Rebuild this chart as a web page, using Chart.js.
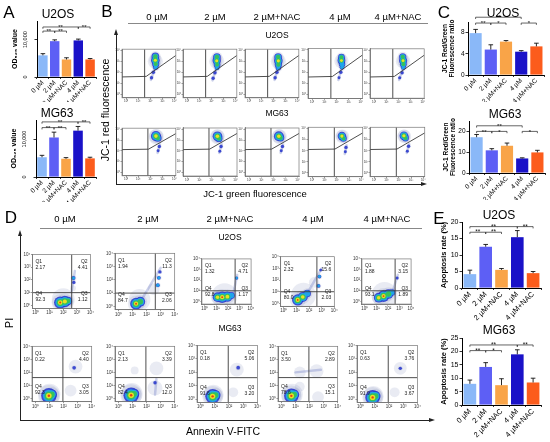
<!DOCTYPE html>
<html>
<head>
<meta charset="utf-8">
<title>Viability, JC-1 and apoptosis panels</title>
<script src="https://cdn.jsdelivr.net/npm/chart.js@4.4.1/dist/chart.umd.min.js"></script>
<style>
  html, body { margin: 0; padding: 0; background: #fff; }
  #fig { position: relative; width: 550px; height: 442px; overflow: hidden; background: #fff;
         font-family: 'Liberation Sans', Arial, sans-serif; color: #000; }
  #fig canvas { position: absolute; }
  .lbl { position: absolute; white-space: nowrap; line-height: 1; transform: translate(-50%, -50%); }
  .ln { position: absolute; }
  .tri { position: absolute; width: 0; height: 0; }
</style>
</head>
<body>
<div id="fig"></div>
<script>
// ---------- data ----------
const GROUPS = ["0 µM", "2 µM", "2 µM+NAC", "4 µM", "4 µM+NAC"];
const CELL_LINES = ["U2OS", "MG63"];

// A: OD values (mean, SD)
const A_U2OS = [5800, 9600, 4700, 9800, 4700];
const A_U2OS_SD = [450, 350, 450, 350, 250];
const A_MG63 = [5200, 10400, 4800, 12200, 4900];
const A_MG63_SD = [500, 1400, 300, 1100, 300];
const A_TICKS = [0, 5000, 10000, 15000];

// C: JC-1 red/green ratio (mean, SD)
const C_U2OS = [7.9, 4.8, 6.3, 4.4, 5.4];
const C_U2OS_SD = [0.7, 0.9, 0.2, 0.2, 0.6];
const C_MG63 = [17.2, 10.9, 13.1, 7.0, 9.9];
const C_MG63_SD = [1.3, 0.8, 1.3, 0.3, 1.0];
const C_U2OS_TICKS = [0, 2, 4, 6, 8, 10];
const C_MG63_TICKS = [0, 5, 10, 15, 20, 25];

// E: apoptosis rate % (mean, SD)
const E_U2OS = [4.2, 12.5, 5.5, 15.4, 4.5];
const E_U2OS_SD = [1.2, 0.7, 0.4, 2.0, 0.5];
const E_MG63 = [7.9, 14.2, 7.4, 18.9, 8.4];
const E_MG63_SD = [1.4, 1.6, 2.4, 1.7, 1.6];
const E_U2OS_TICKS = [0, 5, 10, 15, 20];
const E_MG63_TICKS = [0, 5, 10, 15, 20, 25];

// significance brackets: [from group, to group, height (axis units), label]
const A_U2OS_SIG = [[0, 1, 12300, "**"], [1, 2, 12300, "**"], [0, 3, 13400, "**"], [3, 4, 13400, "**"]];
const A_MG63_SIG = [[0, 1, 13000, "**"], [1, 2, 13000, "**"], [0, 3, 14500, "**"], [3, 4, 14500, "**"]];
const C_U2OS_SIG = [[0, 1, 9.8, "**"], [1, 2, 9.8, "*"], [0, 3, 10.9, "**"], [3, 4, 9.8, "*"]];
const C_MG63_SIG = [[0, 1, 20, "**"], [1, 2, 20, "*"], [0, 3, 22.7, "**"], [3, 4, 20, "*"]];
const E_U2OS_SIG = [[0, 1, 16.9, "**"], [1, 2, 16.9, "**"], [0, 3, 18.6, "**"], [3, 4, 18.6, "**"]];
const E_MG63_SIG = [[0, 1, 20.3, "**"], [1, 2, 20.3, "*"], [0, 3, 22.4, "**"], [3, 4, 22.4, "**"]];

// flow plots: axes in log10 decades
const DECADES = [0, 1, 2, 3, 4];
const B_AXIS = [-0.35, 4.12];
const D_AXIS = [-0.25, 4];

// B gates: [vertical x, left horizontal y, knee x, knee y, y at right edge]
const B_U2OS_GATE = [1.53, 1.57, 1.66, 1.62, 3.54];
const B_MG63_GATE = [1.8, 2.11, 1.85, 2.15, 3.61];
// populations: [x, y, spread (decades), density level 0-5]
const B_U2OS_POP = [
  [[2.42, 3.0, 0.45, 0], [2.42, 3.45, 0.32, 3], [2.42, 3.1, 0.36, 4], [2.45, 2.75, 0.3, 3], [2.45, 2.45, 0.22, 2], [2.25, 2.0, 0.15, 1], [2.1, 1.5, 0.14, 1]],
  [[2.45, 3.0, 0.45, 0], [2.47, 3.4, 0.32, 3], [2.45, 3.05, 0.35, 4], [2.48, 2.7, 0.28, 3], [2.48, 2.4, 0.2, 2], [2.3, 1.95, 0.15, 1], [2.15, 1.45, 0.14, 1]],
  [[2.42, 3.0, 0.45, 0], [2.4, 3.4, 0.32, 3], [2.42, 3.05, 0.36, 4], [2.42, 2.7, 0.3, 3], [2.42, 2.4, 0.22, 2], [2.3, 2.0, 0.15, 1], [2.15, 1.5, 0.14, 1]],
  [[2.4, 3.0, 0.42, 0], [2.4, 3.35, 0.28, 3], [2.4, 3.05, 0.32, 4], [2.45, 2.72, 0.26, 2], [2.45, 2.45, 0.2, 2], [2.35, 2.0, 0.14, 1], [2.2, 1.5, 0.12, 1]],
  [[2.38, 3.0, 0.43, 0], [2.35, 3.4, 0.3, 3], [2.38, 3.05, 0.34, 4], [2.4, 2.72, 0.28, 3], [2.4, 2.42, 0.2, 2], [2.3, 1.95, 0.14, 1], [2.1, 1.5, 0.13, 1]]
];
const B_MG63_POP = [
  [[2.5, 3.3, 0.45, 0], [2.47, 3.38, 0.42, 4], [2.62, 3.2, 0.32, 3], [2.75, 2.4, 0.14, 1], [2.65, 2.0, 0.12, 1]],
  [[2.5, 3.3, 0.44, 0], [2.5, 3.35, 0.4, 4], [2.62, 3.15, 0.3, 3], [2.8, 2.4, 0.14, 1], [2.7, 1.95, 0.12, 1]],
  [[2.5, 3.3, 0.44, 0], [2.45, 3.35, 0.41, 4], [2.6, 3.2, 0.3, 3], [2.75, 2.4, 0.14, 1], [2.65, 2.0, 0.12, 1]],
  [[2.45, 3.3, 0.4, 0], [2.42, 3.32, 0.35, 4], [2.55, 3.1, 0.27, 3], [2.75, 2.3, 0.14, 1], [2.7, 1.9, 0.12, 1]],
  [[2.45, 3.3, 0.4, 0], [2.42, 3.35, 0.36, 4], [2.55, 3.15, 0.28, 3], [2.8, 2.4, 0.14, 1], [2.7, 1.95, 0.12, 1]]
];
const B_U2OS_STREAK = [[[2.4, 2.4, 2.05, 1.3]], [[2.42, 2.35, 2.1, 1.25]], [[2.4, 2.4, 2.1, 1.3]], [[2.42, 2.4, 2.15, 1.3]], [[2.38, 2.4, 2.05, 1.3]]];
const B_MG63_STREAK = [[[2.8, 2.6, 2.6, 1.8]], [[2.85, 2.6, 2.65, 1.8]], [[2.8, 2.6, 2.6, 1.8]], [[2.8, 2.5, 2.65, 1.7]], [[2.85, 2.6, 2.65, 1.8]]];

// D quadrant gates [Annexin V x, PI y] and percentages [Q1, Q2, Q3, Q4]
const D_U2OS_GATE = [2.62, 1.0];
const D_MG63_GATE = [1.95, 1.6];
const D_U2OS_Q = [[2.17, 4.41, 1.12, 92.3], [1.94, 11.3, 2.06, 84.7], [1.32, 4.71, 1.17, 92.8], [2.32, 15.6, 2.03, 80.0], [1.88, 3.15, 1.89, 93.1]];
const D_MG63_Q = [[0.22, 4.40, 3.05, 92.3], [2.13, 3.39, 12.0, 82.4], [0.18, 5.06, 3.20, 91.6], [3.50, 2.89, 15.1, 78.6], [0.63, 3.76, 3.67, 91.9]];
const D_U2OS_POP = [
  [[2.0, 0.45, 0.6, 0], [1.78, 0.22, 0.45, 5], [2.12, 0.3, 0.42, 4], [2.35, 0.35, 0.3, 3], [2.75, 2.15, 0.15, 2], [2.78, 1.8, 0.12, 1], [2.72, 1.35, 0.15, 0]],
  [[1.5, 0.5, 0.55, 0], [1.25, 0.2, 0.42, 5], [1.55, 0.35, 0.35, 3], [2.8, 1.6, 0.14, 2], [2.87, 2.15, 0.14, 2], [2.95, 2.6, 0.12, 1], [2.5, 1.3, 0.3, 0]],
  [[1.7, 0.5, 0.8, 0], [1.1, 0.4, 0.42, 4], [1.5, 0.4, 0.5, 5], [1.95, 0.45, 0.45, 4], [2.3, 0.55, 0.3, 2], [2.75, 2.2, 0.14, 2]],
  [[1.55, 0.7, 0.7, 0], [1.1, 0.3, 0.45, 5], [1.5, 0.55, 0.4, 4], [1.85, 0.85, 0.3, 2], [2.75, 1.5, 0.15, 2], [2.82, 2.3, 0.15, 2], [2.92, 2.85, 0.11, 1], [2.4, 1.8, 0.3, 0]],
  [[1.7, 0.6, 0.8, 0], [1.2, 0.35, 0.42, 4], [1.62, 0.5, 0.5, 5], [2.05, 0.7, 0.42, 3], [2.35, 0.85, 0.28, 2], [2.8, 2.2, 0.13, 1]]
];
const D_MG63_POP = [
  [[1.0, 0.3, 0.55, 0], [0.95, 0.2, 0.55, 5], [1.15, 0.3, 0.38, 3], [2.85, 2.45, 0.35, 0], [2.75, 2.35, 0.13, 1], [2.5, 0.6, 0.3, 0]],
  [[0.95, 0.35, 0.55, 0], [0.9, 0.25, 0.55, 5], [1.1, 0.35, 0.38, 3], [2.6, 0.8, 0.38, 0], [2.7, 2.3, 0.35, 0], [1.15, 2.15, 0.2, 0], [2.6, 1.2, 0.12, 1]],
  [[0.9, 0.3, 0.52, 0], [0.85, 0.2, 0.52, 5], [1.05, 0.3, 0.36, 3], [2.55, 2.2, 0.35, 0], [2.65, 2.35, 0.13, 1], [2.3, 0.5, 0.25, 0]],
  [[0.75, 0.3, 0.55, 0], [0.7, 0.2, 0.52, 5], [0.9, 0.3, 0.36, 3], [1.3, 2.0, 0.3, 0], [2.5, 2.1, 0.35, 0], [2.6, 0.1, 0.3, 0], [1.3, 0.9, 0.25, 0]],
  [[0.9, 0.2, 0.52, 0], [0.85, 0.12, 0.52, 5], [1.05, 0.22, 0.36, 3], [2.8, 2.3, 0.32, 0], [2.8, 2.3, 0.12, 1], [2.4, 0.5, 0.25, 0]]
];
const D_U2OS_STREAK = [[[2.62, 1.1, 2.85, 2.7]], [[1.7, 0.6, 3.0, 2.9]], [[2.5, 0.9, 2.8, 2.5]], [[1.9, 0.95, 3.0, 3.0]], [[2.4, 0.9, 2.85, 2.5]]];
const D_MG63_STREAK = [[], [[2.6, 0.3, 2.7, 1.5]], [], [[1.0, 2.0, 2.8, 2.2]], []];

// ---------- styling ----------
const BAR_COLORS = ["#8ab8f8", "#5d5ff5", "#f9a448", "#1a12c8", "#fc5c1c"];
const FONT = "'Liberation Sans', Arial, sans-serif";
const SUP = ["⁰", "¹", "²", "³", "⁴"];
// density layers: radius factor relative to population spread, colour
const HEAT = [
  { k: 1.4, color: "rgba(120,128,180,0.16)" },
  { k: 1.0, color: "rgba(40,55,205,0.88)" },
  { k: 0.78, color: "rgba(30,170,235,0.92)" },
  { k: 0.56, color: "rgba(55,195,85,0.95)" },
  { k: 0.36, color: "rgba(240,225,35,0.97)" },
  { k: 0.16, color: "rgba(230,55,25,0.97)" }
];

Chart.defaults.font.family = FONT;
Chart.defaults.color = "#000";

const fig = document.getElementById("fig");

// ---------- plugins ----------
const errorBars = {
  id: "errorBars",
  afterDatasetsDraw(chart, args, opts) {
    if (!opts.sd) return;
    const y = chart.scales.y, ctx = chart.ctx, vals = chart.data.datasets[0].data;
    ctx.save();
    ctx.strokeStyle = "#111";
    ctx.lineWidth = 0.9;
    chart.getDatasetMeta(0).data.forEach((bar, i) => {
      const top = y.getPixelForValue(vals[i] + opts.sd[i]);
      ctx.beginPath();
      ctx.moveTo(bar.x, bar.y);
      ctx.lineTo(bar.x, top);
      ctx.moveTo(bar.x - 2.3, top);
      ctx.lineTo(bar.x + 2.3, top);
      ctx.stroke();
    });
    ctx.restore();
  }
};

const sigBars = {
  id: "sigBars",
  afterDatasetsDraw(chart, args, opts) {
    if (!opts.items) return;
    const x = chart.scales.x, y = chart.scales.y, ctx = chart.ctx;
    ctx.save();
    ctx.strokeStyle = "#222";
    ctx.lineWidth = 0.7;
    ctx.fillStyle = "#111";
    ctx.font = opts.size + "px " + FONT;
    ctx.textAlign = "center";
    opts.items.forEach(([a, b, h, label]) => {
      const x1 = x.getPixelForValue(a), x2 = x.getPixelForValue(b), yy = y.getPixelForValue(h);
      ctx.beginPath();
      ctx.moveTo(x1, yy + 1.8);
      ctx.lineTo(x1, yy);
      ctx.lineTo(x2, yy);
      ctx.lineTo(x2, yy + 1.8);
      ctx.stroke();
      ctx.fillText(label, (x1 + x2) / 2, yy + 2.2);
    });
    ctx.restore();
  }
};

const fmtPct = v => (v >= 10 ? v.toFixed(1) : v.toFixed(2));

const flowFrame = {
  id: "flowFrame",
  afterDatasetsDraw(chart, args, opts) {
    if (!opts.on) return;
    const a = chart.chartArea, ctx = chart.ctx;
    ctx.save();
    ctx.strokeStyle = "#777";
    ctx.lineWidth = 0.7;
    ctx.strokeRect(a.left, a.top, a.right - a.left, a.bottom - a.top);
    if (opts.quad) {
      const q = opts.quad, fs = opts.fs;
      ctx.fillStyle = "#222";
      ctx.font = fs + "px " + FONT;
      ctx.textBaseline = "middle";
      ctx.textAlign = "left";
      ctx.fillText("Q1", a.left + 3, a.top + 7);
      ctx.fillText(fmtPct(q[0]), a.left + 3, a.top + 13);
      ctx.fillText("Q4", a.left + 3, a.bottom - 15);
      ctx.fillText(fmtPct(q[3]), a.left + 3, a.bottom - 9);
      ctx.textAlign = "right";
      ctx.fillText("Q2", a.right - 3, a.top + 7);
      ctx.fillText(fmtPct(q[1]), a.right - 3, a.top + 13);
      ctx.fillText("Q3", a.right - 3, a.bottom - 15);
      ctx.fillText(fmtPct(q[2]), a.right - 3, a.bottom - 9);
    }
    ctx.restore();
  }
};

Chart.register(errorBars, sigBars, flowFrame);

// ---------- helpers ----------
function makeCanvas(x, y, w, h) {
  const c = document.createElement("canvas");
  w = Math.round(w); h = Math.round(h);
  c.width = w; c.height = h;
  c.style.left = x + "px"; c.style.top = y + "px";
  c.style.width = w + "px"; c.style.height = h + "px";
  fig.appendChild(c);
  return c;
}

function addText(str, x, y, size, opts = {}) {
  const d = document.createElement("div");
  d.className = "lbl";
  d.textContent = str;
  d.style.left = x + "px";
  d.style.top = y + "px";
  d.style.fontSize = size + "px";
  if (opts.bold) d.style.fontWeight = "bold";
  if (opts.rot) d.style.transform = "translate(-50%, -50%) rotate(" + opts.rot + "deg)";
  fig.appendChild(d);
}

function addLine(x, y, w, h, color) {
  const d = document.createElement("div");
  d.className = "ln";
  Object.assign(d.style, { left: x + "px", top: y + "px", width: w + "px", height: h + "px", background: color });
  fig.appendChild(d);
}

function arrowHead(x, y, dir) {
  const d = document.createElement("div");
  d.className = "tri";
  if (dir === "up") {
    Object.assign(d.style, { left: (x - 2.5) + "px", top: (y - 1) + "px", borderLeft: "2.5px solid transparent",
      borderRight: "2.5px solid transparent", borderBottom: "6px solid #222" });
  } else {
    Object.assign(d.style, { left: (x - 5) + "px", top: (y - 2.5) + "px", borderTop: "2.5px solid transparent",
      borderBottom: "2.5px solid transparent", borderLeft: "6px solid #222" });
  }
  fig.appendChild(d);
}

function axisLine(color, width) {
  return { display: true, color: color, width: width };
}

// ---------- bar charts ----------
function barChart(box, means, sds, sig, ticks, yTitle, st) {
  const padT = 10, padR = 3;
  const cv = makeCanvas(box.l - st.yW, box.t - padT, st.yW + (box.r - box.l) + padR, padT + (box.b - box.t) + st.xH);
  new Chart(cv, {
    type: "bar",
    data: {
      labels: GROUPS,
      datasets: [{ data: means, backgroundColor: BAR_COLORS, borderWidth: 0, categoryPercentage: 0.8, barPercentage: 1 }]
    },
    options: {
      responsive: false,
      animation: false,
      events: [],
      layout: { padding: { top: padT, right: padR, left: 0, bottom: 0 } },
      plugins: {
        legend: { display: false },
        tooltip: { enabled: false },
        errorBars: { sd: sds },
        sigBars: { items: sig, size: st.sig }
      },
      scales: {
        x: {
          grid: { display: true, drawOnChartArea: false, color: "#000", tickLength: 2, lineWidth: 0.8 },
          border: axisLine("#000", 1),
          ticks: { minRotation: 45, maxRotation: 45, autoSkip: false, padding: 0, font: { size: st.xf }, color: "#000" },
          afterFit: s => { s.height = st.xH; s.paddingLeft = 0; s.paddingRight = 0; }
        },
        y: {
          min: ticks[0],
          max: ticks[ticks.length - 1],
          afterBuildTicks: s => { s.ticks = ticks.map(v => ({ value: v })); },
          grid: { display: true, drawOnChartArea: false, color: "#000", tickLength: 2.5, lineWidth: 0.8 },
          border: axisLine("#000", 1),
          ticks: {
            padding: 1, font: { size: st.yf }, color: "#000",
            minRotation: st.rot, maxRotation: st.rot, crossAlign: st.rot ? "center" : "near"
          },
          title: { display: true, text: yTitle, font: { size: st.tf, weight: "bold" }, color: "#000", padding: { top: 0, bottom: 1 } },
          afterFit: s => { s.width = st.yW; s.paddingTop = 0; s.paddingBottom = 0; }
        }
      }
    }
  });
}

const A_STYLE = { yW: 26, xH: 25, xf: 6.5, yf: 5.5, tf: 7, rot: 90, sig: 6 };
const C_STYLE = { yW: 27, xH: 27, xf: 6.5, yf: 6.5, tf: 6.5, rot: 0, sig: 6 };
const E_STYLE = { yW: 23, xH: 34, xf: 7.5, yf: 7, tf: 7.5, rot: 0, sig: 6.5 };

barChart({ l: 37, t: 21, r: 96, b: 77 }, A_U2OS, A_U2OS_SD, A_U2OS_SIG, A_TICKS, "OD₅₂₅ value", A_STYLE);
barChart({ l: 36, t: 120, r: 96, b: 177 }, A_MG63, A_MG63_SD, A_MG63_SIG, A_TICKS, "OD₅₂₅ value", A_STYLE);
barChart({ l: 468, t: 22, r: 544, b: 75 }, C_U2OS, C_U2OS_SD, C_U2OS_SIG, C_U2OS_TICKS, ["JC-1 Red/Green", "Fluorescence ratio"], C_STYLE);
barChart({ l: 469, t: 121, r: 545, b: 173 }, C_MG63, C_MG63_SD, C_MG63_SIG, C_MG63_TICKS, ["JC-1 Red/Green", "Fluorescence ratio"], C_STYLE);
barChart({ l: 462, t: 222, r: 541, b: 288 }, E_U2OS, E_U2OS_SD, E_U2OS_SIG, E_U2OS_TICKS, "Apoptosis rate (%)", E_STYLE);
barChart({ l: 462, t: 338, r: 541, b: 405 }, E_MG63, E_MG63_SD, E_MG63_SIG, E_MG63_TICKS, "Apoptosis rate (%)", E_STYLE);

addText(CELL_LINES[0], 58, 14, 12);
addText(CELL_LINES[1], 57, 113, 12);
addText(CELL_LINES[0], 503, 13, 12);
addText(CELL_LINES[1], 505, 114, 12);
addText(CELL_LINES[0], 499, 215, 12);
addText(CELL_LINES[1], 499, 330, 12);

// ---------- flow plots ----------
function flowChart(box, range, spec) {
  const padT = 2, padR = 4;
  const [lo, hi] = range;
  const cv = makeCanvas(box.l - spec.yW, box.t - padT, spec.yW + box.w + padR, padT + box.h + spec.xH);
  const paint = [];
  HEAT.forEach((layer, L) => {
    const pts = spec.pops.filter(p => p[3] >= L).map(p => ({ x: p[0], y: p[1], s: p[2] }));
    if (pts.length) {
      paint.push({
        data: pts, backgroundColor: layer.color, borderWidth: 0, pointBorderWidth: 0,
        pointRadius: c => {
          const sx = c.chart.scales.x;
          const w = sx && sx.width ? sx.width : box.w;
          return c.raw.s * layer.k * w / (hi - lo);
        }
      });
    }
    if (L === 0) {
      spec.streaks.forEach(([x1, y1, x2, y2]) => paint.push({
        data: [{ x: x1, y: y1 }, { x: x2, y: y2 }], showLine: true, pointRadius: 0,
        borderColor: "rgba(90,105,190,0.3)", borderWidth: 2.5, borderCapStyle: "round"
      }));
    }
  });
  spec.gates.forEach(g => paint.push({
    data: g.map(([x, y]) => ({ x, y })), showLine: true, pointRadius: 0, borderColor: "#3a3a3a", borderWidth: 0.9
  }));
  paint.forEach((d, i) => { d.order = paint.length - i; d.clip = 0; });

  const scale = (isX) => ({
    type: "linear", min: lo, max: hi,
    afterBuildTicks: s => { s.ticks = DECADES.map(v => ({ value: v })); },
    ticks: { callback: v => "10" + SUP[v], font: { size: spec.tf }, color: "#333", padding: 0.5, maxRotation: 0, minRotation: 0, autoSkip: false },
    grid: { display: true, drawOnChartArea: false, tickLength: 1.5, color: "#555", lineWidth: 0.6 },
    border: axisLine("#666", 0.8),
    afterFit: isX
      ? s => { s.height = spec.xH; s.paddingLeft = 0; s.paddingRight = 0; }
      : s => { s.width = spec.yW; s.paddingTop = 0; s.paddingBottom = 0; }
  });

  new Chart(cv, {
    type: "scatter",
    data: { datasets: paint },
    options: {
      responsive: false,
      animation: false,
      events: [],
      layout: { padding: { top: padT, right: padR, left: 0, bottom: 0 } },
      plugins: { legend: { display: false }, tooltip: { enabled: false }, flowFrame: { on: true, quad: spec.quad, fs: 5 } },
      scales: { x: scale(true), y: scale(false) }
    }
  });
}

const [bLo, bHi] = B_AXIS;
const [dLo, dHi] = D_AXIS;
const bGateLines = g => [[[g[0], bLo], [g[0], bHi]], [[bLo, g[1]], [g[2], g[3]], [bHi, g[4]]]];
const dGateLines = g => [[[g[0], dLo], [g[0], dHi]], [[dLo, g[1]], [dHi, g[1]]]];

const B_LEFT = [122, 183, 245, 308, 370];
const D_LEFT = [32, 115, 197, 278, 357];

GROUPS.forEach((g, i) => {
  flowChart({ l: B_LEFT[i], t: 43, w: 58, h: 57 }, B_AXIS,
    { pops: B_U2OS_POP[i], streaks: B_U2OS_STREAK[i], gates: bGateLines(B_U2OS_GATE), quad: null, yW: 9, xH: 6, tf: 3 });
  flowChart({ l: B_LEFT[i], t: 122, w: 58, h: 56 }, B_AXIS,
    { pops: B_MG63_POP[i], streaks: B_MG63_STREAK[i], gates: bGateLines(B_MG63_GATE), quad: null, yW: 9, xH: 6, tf: 3 });
  flowChart({ l: D_LEFT[i], t: 243, w: 68, h: 70 }, D_AXIS,
    { pops: D_U2OS_POP[i], streaks: D_U2OS_STREAK[i], gates: dGateLines(D_U2OS_GATE), quad: D_U2OS_Q[i], yW: 13, xH: 9, tf: 4.5 });
  flowChart({ l: D_LEFT[i], t: 336, w: 68, h: 69 }, D_AXIS,
    { pops: D_MG63_POP[i], streaks: D_MG63_STREAK[i], gates: dGateLines(D_MG63_GATE), quad: D_MG63_Q[i], yW: 13, xH: 9, tf: 4.5 });
});

// ---------- headers, axes, panel letters ----------
const B_HEAD_X = [157, 215, 277, 340, 398];
const D_HEAD_X = [65, 148, 230, 313, 387];
GROUPS.forEach((g, i) => {
  addText(g, B_HEAD_X[i], 17, 9.5);
  addText(g, D_HEAD_X[i], 219, 9.5);
});
addLine(128, 23, 300, 0.8, "#888");
addLine(40, 228, 382, 0.8, "#888");
addText(CELL_LINES[0], 277, 35, 8.5);
addText(CELL_LINES[1], 277, 113, 8.5);
addText(CELL_LINES[0], 230, 237, 8.5);
addText(CELL_LINES[1], 230, 328, 8.5);

addLine(116, 35, 1, 150, "#222");
addLine(116, 184, 305, 1, "#222");
arrowHead(116.5, 30, "up");
arrowHead(426, 184.5, "right");
addText("JC-1 red fluorescence", 105, 110, 10.5, { rot: -90 });
addText("JC-1 green fluorescence", 255, 194, 9.5);

addLine(20, 236, 1, 184, "#222");
addLine(20, 420, 409, 1, "#222");
arrowHead(20.5, 231, "up");
arrowHead(434, 420.5, "right");
addText("PI", 9, 323, 11, { rot: -90 });
addText("Annexin V-FITC", 223, 431, 10.5);

addText("A", 9, 12, 17);
addText("B", 107, 11, 17);
addText("C", 444, 12, 17);
addText("D", 11, 217, 17);
addText("E", 439, 218, 17);
</script>
</body>
</html>
